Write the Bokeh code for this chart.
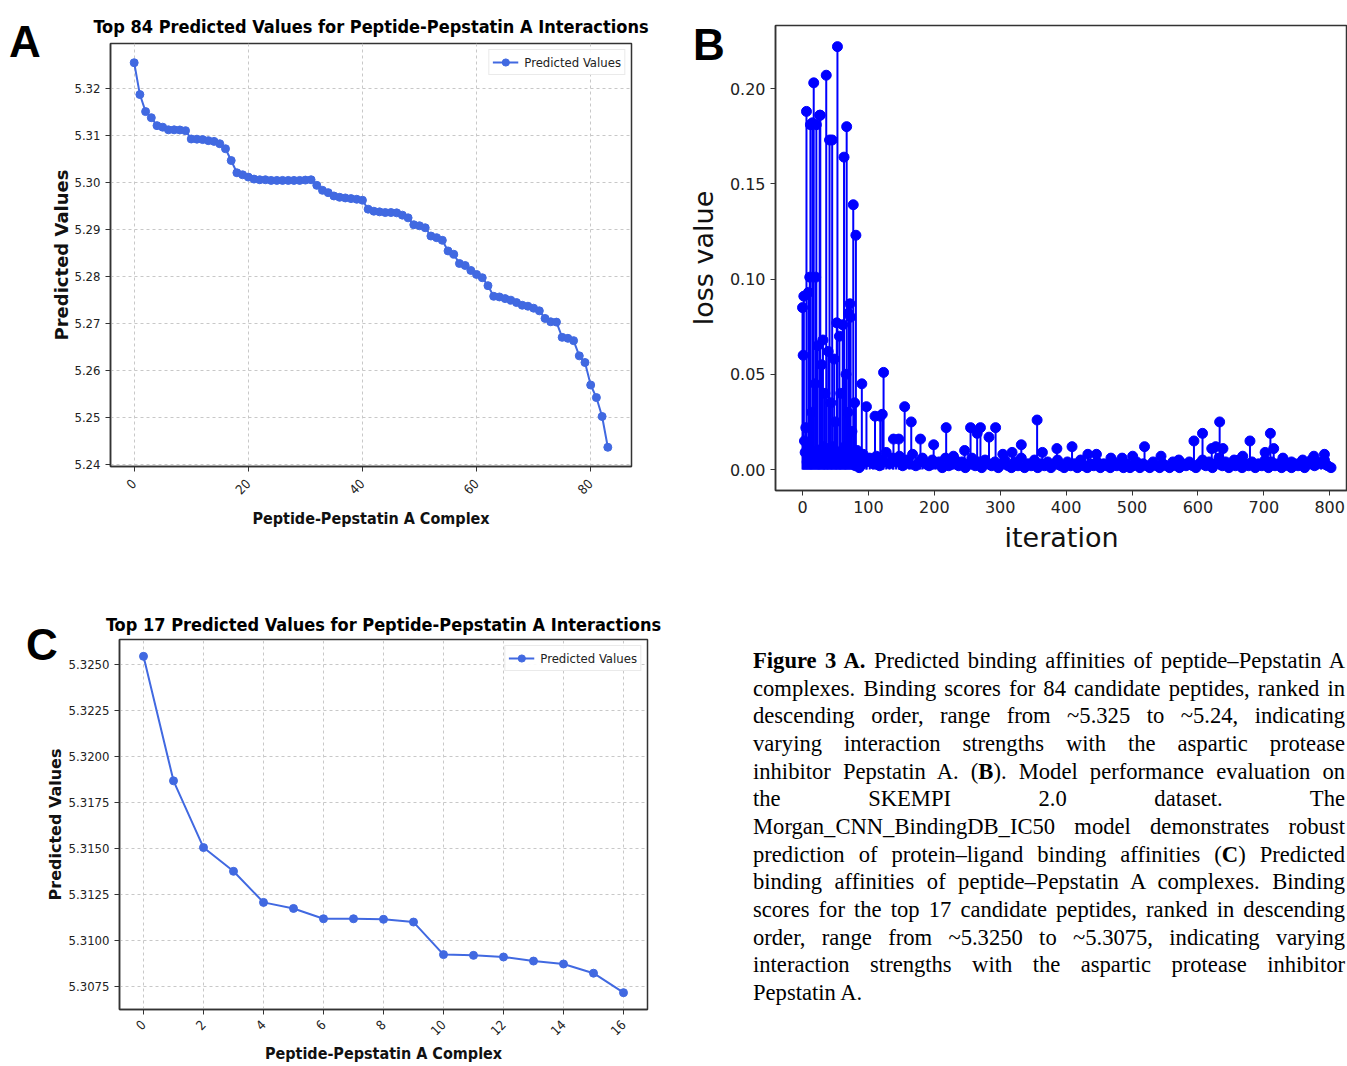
import math
from bokeh.plotting import figure
from bokeh.models import FixedTicker, PrintfTickFormatter, Range1d, Div
from bokeh.layouts import row, column
from bokeh.embed import file_html
from bokeh.resources import INLINE

# ---------------- data ----------------
# Panel A: top 84 predicted values (index 0..83)
a_values = [5.32545, 5.31868, 5.31505, 5.31376, 5.31207, 5.31174, 5.31118, 5.31118, 5.31115, 5.31100,
            5.30923, 5.30919, 5.30910, 5.30888, 5.30872, 5.30822, 5.30716, 5.30465, 5.30204, 5.30162,
            5.30113, 5.30070, 5.30056, 5.30056, 5.30042, 5.30042, 5.30042, 5.30042, 5.30042, 5.30042,
            5.30049, 5.30056, 5.29937, 5.29831, 5.29782, 5.29711, 5.29683, 5.29669, 5.29655, 5.29641,
            5.29620, 5.29430, 5.29387, 5.29373, 5.29359, 5.29359, 5.29352, 5.29303, 5.29246, 5.29099,
            5.29077, 5.29035, 5.28859, 5.28824, 5.28768, 5.28542, 5.28472, 5.28275, 5.28232, 5.28127,
            5.28042, 5.27972, 5.27803, 5.27577, 5.27563, 5.27528, 5.27493, 5.27444, 5.27387, 5.27366,
            5.27324, 5.27268, 5.27106, 5.27035, 5.27028, 5.26704, 5.26683, 5.26634, 5.26310, 5.26169,
            5.25690, 5.25423, 5.25021, 5.24366]
a_index = list(range(len(a_values)))
a_xticks = [0, 20, 40, 60, 80]
a_yticks = [5.24, 5.25, 5.26, 5.27, 5.28, 5.29, 5.30, 5.31, 5.32]

# Panel C: top 17 predicted values
c_values = [5.32545, 5.31868, 5.31505, 5.31376, 5.31207, 5.31174, 5.31118, 5.31118, 5.31115,
            5.31100, 5.30923, 5.30919, 5.30910, 5.30888, 5.30872, 5.30822, 5.30716]
c_index = list(range(len(c_values)))
c_xticks = [0, 2, 4, 6, 8, 10, 12, 14, 16]
c_yticks = [5.3075, 5.3100, 5.3125, 5.3150, 5.3175, 5.3200, 5.3225, 5.3250]

# Panel B: loss value per iteration (early dense region, low tail, tail spikes)
b_early_iter = list(range(0, 91))
b_early_loss = [0.085, 0.060, 0.091, 0.015, 0.009, 0.022, 0.188, 0.004, 0.012, 0.093,
                0.006, 0.101, 0.181, 0.003, 0.030, 0.182, 0.008, 0.203, 0.005, 0.045,
                0.101, 0.181, 0.004, 0.065, 0.010, 0.003, 0.186, 0.186, 0.007, 0.055,
                0.004, 0.068, 0.012, 0.003, 0.040, 0.006, 0.207, 0.010, 0.003, 0.062,
                0.008, 0.173, 0.005, 0.035, 0.003, 0.173, 0.012, 0.004, 0.058, 0.006,
                0.025, 0.003, 0.077, 0.222, 0.005, 0.009, 0.070, 0.003, 0.040, 0.004,
                0.010, 0.076, 0.005, 0.164, 0.012, 0.003, 0.050, 0.180, 0.006, 0.030,
                0.082, 0.004, 0.087, 0.080, 0.008, 0.020, 0.003, 0.139, 0.009, 0.035,
                0.002, 0.123, 0.004, 0.010, 0.002, 0.006, 0.001, 0.004, 0.002, 0.003,
                0.045]
b_tail_iter = list(range(92, 803, 5))
b_tail_loss = [0.008, 0.004, 0.006, 0.003, 0.007, 0.002, 0.005, 0.009, 0.003, 0.006,
               0.004, 0.007, 0.002, 0.005, 0.003, 0.008, 0.002, 0.004, 0.006, 0.003,
               0.002, 0.005, 0.003, 0.004, 0.001, 0.006, 0.002, 0.003, 0.005, 0.002,
               0.004, 0.001, 0.003, 0.006, 0.002, 0.004, 0.001, 0.005, 0.003, 0.002,
               0.004, 0.001, 0.003, 0.005, 0.002, 0.001, 0.004, 0.002, 0.006, 0.001,
               0.003, 0.002, 0.005, 0.001, 0.003, 0.002, 0.004, 0.001, 0.003, 0.005,
               0.002, 0.001, 0.004, 0.002, 0.003, 0.001, 0.005, 0.002, 0.001, 0.003,
               0.002, 0.004, 0.001, 0.003, 0.002, 0.001, 0.004, 0.002, 0.003, 0.001,
               0.003, 0.001, 0.002, 0.004, 0.001, 0.003, 0.002, 0.001, 0.004, 0.002,
               0.001, 0.003, 0.002, 0.001, 0.004, 0.002, 0.001, 0.003, 0.002, 0.004,
               0.002, 0.001, 0.003, 0.005, 0.002, 0.004, 0.001, 0.003, 0.006, 0.002,
               0.004, 0.001, 0.003, 0.002, 0.005, 0.001, 0.003, 0.002, 0.004, 0.001,
               0.003, 0.002, 0.005, 0.001, 0.004, 0.002, 0.003, 0.001, 0.004, 0.002,
               0.001, 0.003, 0.002, 0.004, 0.001, 0.003, 0.005, 0.002, 0.004, 0.003,
               0.005, 0.002, 0.001]
b_spike_iter = [97, 110, 118, 121, 123, 138, 146, 155, 165, 179, 199, 218, 229, 246, 255, 265,
                270, 283, 293, 304, 318, 332, 356, 364, 386, 409, 433, 446, 468, 485, 501, 519,
                544, 571, 594, 607, 621, 627, 633, 638, 655, 668, 679, 702, 710, 715, 729, 742,
                759, 776, 792]
b_spike_loss = [0.033, 0.028, 0.028, 0.029, 0.051, 0.016, 0.016, 0.033, 0.025, 0.016, 0.013, 0.022,
                0.007, 0.010, 0.022, 0.019, 0.022, 0.017, 0.022, 0.008, 0.009, 0.013, 0.026, 0.009,
                0.011, 0.012, 0.008, 0.008, 0.006, 0.006, 0.007, 0.012, 0.007, 0.005, 0.015, 0.019,
                0.011, 0.012, 0.025, 0.011, 0.005, 0.007, 0.015, 0.009, 0.019, 0.011, 0.006, 0.004,
                0.005, 0.007, 0.008]
b_xticks = [0, 100, 200, 300, 400, 500, 600, 700, 800]
b_yticks = [0.00, 0.05, 0.10, 0.15, 0.20]

panel_letters = ["A", "B", "C"]

caption_lines = [
    "<b>Figure 3 A.</b> Predicted binding affinities of peptide\u2013Pepstatin A",
    "complexes. Binding scores for 84 candidate peptides, ranked in",
    "descending order, range from ~5.325 to ~5.24, indicating",
    "varying interaction strengths with the aspartic protease",
    "inhibitor Pepstatin A. (<b>B</b>). Model performance evaluation on",
    "the SKEMPI&nbsp;2.0 dataset. The",
    "Morgan_CNN_BindingDB_IC50 model demonstrates robust",
    "prediction of protein\u2013ligand binding affinities (<b>C</b>) Predicted",
    "binding affinities of peptide\u2013Pepstatin A complexes. Binding",
    "scores for the top 17 candidate peptides, ranked in descending",
    "order, range from ~5.3250 to ~5.3075, indicating varying",
    "interaction strengths with the aspartic protease inhibitor",
    "Pepstatin A.",
]

# ---------------- styling helpers ----------------
COND = "DejaVu Sans Condensed"
ROYAL = "#4169E1"


def padded(lo, hi, frac=0.05):
    d = (hi - lo) * frac
    return lo - d, hi + d


def style_common(p, tick_font, tick_size, label_font, label_size, label_style):
    for ax in (p.xaxis[0], p.yaxis[0]):
        ax.axis_line_color = "#333333"
        ax.axis_line_width = 1.5
        ax.major_tick_line_color = "#333333"
        ax.major_tick_out = 5
        ax.major_tick_in = 0
        ax.minor_tick_line_color = None
        ax.major_label_text_font = tick_font
        ax.major_label_text_font_size = tick_size
        ax.major_label_text_color = "#222222"
        ax.axis_label_text_font = label_font
        ax.axis_label_text_font_size = label_size
        ax.axis_label_text_font_style = label_style
        ax.axis_label_text_color = "#111111"
    p.outline_line_color = "#333333"
    p.outline_line_width = 1.5
    p.background_fill_color = "white"
    p.border_fill_color = "white"


def style_legend(p):
    lg = p.legend[0]
    lg.location = "top_right"
    lg.margin = 6
    lg.padding = 3
    lg.spacing = 0
    lg.label_text_font = COND
    lg.label_text_font_size = "13px"
    lg.label_text_color = "#222222"
    lg.glyph_width = 26
    lg.glyph_height = 18
    lg.label_height = 18
    lg.label_standoff = 6
    lg.border_line_color = "#d5d5d5"
    lg.background_fill_alpha = 0.9


# ---------------- Panel A ----------------
A_W, A_H = 660, 560
A_L, A_R, A_T, A_B = 110, 29, 43, 94
a_xr = padded(min(a_index), max(a_index))
a_yr = padded(min(a_values), max(a_values))
pA = figure(width=A_W, height=A_H, x_range=Range1d(*a_xr), y_range=Range1d(*a_yr),
            output_backend="svg", toolbar_location=None, frame_align=False,
            min_border_left=A_L, min_border_right=A_R, min_border_top=A_T, min_border_bottom=A_B,
            title="Top 84 Predicted Values for Peptide-Pepstatin A Interactions")
pA.line(a_index, a_values, line_color=ROYAL, line_width=2, legend_label="Predicted Values")
pA.scatter(a_index, a_values, size=8, fill_color=ROYAL, line_color=ROYAL, legend_label="Predicted Values")
style_common(pA, COND, "13px", COND, "16px", "bold")
pA.yaxis[0].axis_label_text_font = "DejaVu Sans"
pA.yaxis[0].axis_label_text_font_size = "18px"
pA.xaxis.axis_label = "Peptide-Pepstatin A Complex"
pA.yaxis.axis_label = "Predicted Values"
pA.xaxis.ticker = FixedTicker(ticks=a_xticks)
pA.yaxis.ticker = FixedTicker(ticks=a_yticks)
pA.yaxis.formatter = PrintfTickFormatter(format="%.2f")
pA.xaxis.major_label_orientation = math.pi / 4
pA.xaxis.major_label_standoff = 10
pA.xaxis.axis_label_standoff = 8
pA.yaxis.axis_label_standoff = -1
pA.grid.grid_line_color = "#c8c8c8"
pA.grid.grid_line_dash = "3 3"
pA.grid.grid_line_width = 1
pA.title.align = "center"
pA.title.text_font = COND
pA.title.text_font_size = "18px"
pA.title.text_font_style = "bold"
pA.title.text_color = "black"
pA.title.standoff = 14
style_legend(pA)

# ---------------- Panel B ----------------
B_W, B_H = 687, 560
B_L, B_R, B_T, B_B = 115, 0, 25, 70
b_xr = (-41.0, 827.0)
b_yr = (-0.011, 0.2331)
pB = figure(width=B_W, height=B_H, x_range=Range1d(*b_xr), y_range=Range1d(*b_yr),
            output_backend="svg", toolbar_location=None, frame_align=False,
            min_border_left=B_L, min_border_right=B_R, min_border_top=B_T, min_border_bottom=B_B)
BLUE = "#0000ff"
for xs, ys in ((b_tail_iter, b_tail_loss), (b_spike_iter, b_spike_loss), (b_early_iter, b_early_loss)):
    pB.segment(x0=xs, y0=[0] * len(xs), x1=xs, y1=ys, line_color=BLUE, line_width=2)
    pB.scatter(xs, ys, size=10, fill_color=BLUE, line_color=BLUE)
style_common(pB, "DejaVu Sans", "16px", "DejaVu Sans", "27px", "normal")
pB.xaxis.axis_label = "iteration"
pB.yaxis.axis_label = "loss value"
pB.xaxis.ticker = FixedTicker(ticks=b_xticks)
pB.yaxis.ticker = FixedTicker(ticks=b_yticks)
pB.yaxis.formatter = PrintfTickFormatter(format="%.2f")
pB.xaxis.axis_label_standoff = 6
pB.yaxis.axis_label_standoff = 8
pB.grid.grid_line_color = None

# ---------------- Panel C ----------------
C_W, C_H = 680, 506
C_L, C_R, C_T, C_B = 119, 33, 79, 54
c_xr = padded(min(c_index), max(c_index))
c_yr = padded(min(c_values), max(c_values))
pC = figure(width=C_W, height=C_H, x_range=Range1d(*c_xr), y_range=Range1d(*c_yr),
            output_backend="svg", toolbar_location=None, frame_align=False,
            min_border_left=C_L, min_border_right=C_R, min_border_top=C_T, min_border_bottom=C_B,
            title="Top 17 Predicted Values for Peptide-Pepstatin A Interactions")
pC.line(c_index, c_values, line_color=ROYAL, line_width=2, legend_label="Predicted Values")
pC.scatter(c_index, c_values, size=8, fill_color=ROYAL, line_color=ROYAL, legend_label="Predicted Values")
style_common(pC, COND, "13px", COND, "16px", "bold")
pC.yaxis[0].axis_label_text_font = "DejaVu Sans"
pC.yaxis[0].axis_label_text_font_size = "16px"
pC.xaxis.axis_label = "Peptide-Pepstatin A Complex"
pC.yaxis.axis_label = "Predicted Values"
pC.xaxis.ticker = FixedTicker(ticks=c_xticks)
pC.yaxis.ticker = FixedTicker(ticks=c_yticks)
pC.yaxis.formatter = PrintfTickFormatter(format="%.4f")
pC.xaxis.major_label_orientation = math.pi / 4
pC.xaxis.major_label_standoff = 8
pC.xaxis.axis_label_standoff = 2
pC.yaxis.axis_label_standoff = 1
pC.grid.grid_line_color = "#c8c8c8"
pC.grid.grid_line_dash = "3 3"
pC.grid.grid_line_width = 1
pC.title.align = "center"
pC.title.text_font = COND
pC.title.text_font_size = "18px"
pC.title.text_font_style = "bold"
pC.title.text_color = "black"
style_legend(pC)

# ---------------- Caption (with panel letters overlaid) ----------------
# letter positions relative to the caption box's top-left (caption box at page x=680, y=560)
letter_pos = {"A": (-671, -540), "B": (13, -537), "C": (-654, 63)}
letter_html = "".join(
    '<div style="position:absolute;left:%dpx;top:%dpx;z-index:10;font-family:\'Liberation Sans\',Arial,sans-serif;'
    'font-weight:bold;font-size:44px;line-height:44px;color:#000;">%s</div>'
    % (letter_pos[k][0], letter_pos[k][1], k) for k in panel_letters
)
line_divs = "".join(
    '<div style="text-align:justify;text-align-last:justify;">%s</div>' % t for t in caption_lines[:-1]
) + '<div style="text-align:left;">%s</div>' % caption_lines[-1]
caption_html = (
    '<div style="position:relative;width:667px;height:506px;">' + letter_html +
    '<div style="position:absolute;left:73px;top:87px;width:592px;'
    'font-family:\'Liberation Serif\',\'Times New Roman\',serif;'
    'font-size:22.6px;line-height:27.67px;color:#000;">' + line_divs + '</div></div>'
)
caption = Div(text=caption_html, width=667, height=506, margin=(0, 0, 0, 0),
              styles={"overflow": "visible"})

layout = column(row(pA, pB), row(pC, caption))
open("out.html", "w").write(file_html(layout, INLINE))
